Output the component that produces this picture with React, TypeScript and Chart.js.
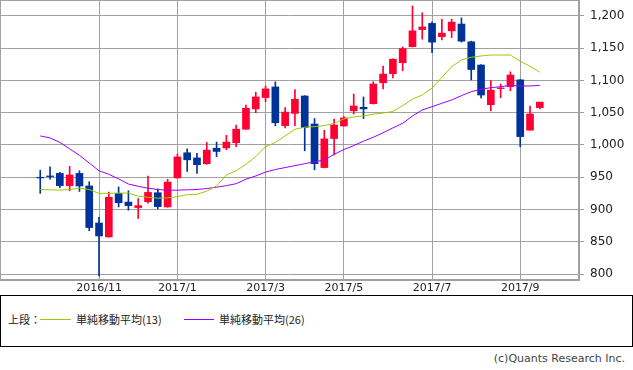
import React, { useEffect, useRef } from 'react';
import { Chart, registerables } from 'chart.js';
Chart.register(...registerables);

// Weekly candles (week start dates)
const weeks = [
  '2016-09-26', '2016-10-03', '2016-10-10', '2016-10-17', '2016-10-24', '2016-10-31',
  '2016-11-07', '2016-11-14', '2016-11-21', '2016-11-28', '2016-12-05', '2016-12-12',
  '2016-12-19', '2016-12-26', '2017-01-02', '2017-01-09', '2017-01-16', '2017-01-23',
  '2017-01-30', '2017-02-06', '2017-02-13', '2017-02-20', '2017-02-27', '2017-03-06',
  '2017-03-13', '2017-03-20', '2017-03-27', '2017-04-03', '2017-04-10', '2017-04-17',
  '2017-04-24', '2017-05-01', '2017-05-08', '2017-05-15', '2017-05-22', '2017-05-29',
  '2017-06-05', '2017-06-12', '2017-06-19', '2017-06-26', '2017-07-03', '2017-07-10',
  '2017-07-17', '2017-07-24', '2017-07-31', '2017-08-07', '2017-08-14', '2017-08-21',
  '2017-08-28', '2017-09-04', '2017-09-11', '2017-09-18',
];

const openP = [
  950, 952, 956, 937, 956, 936.5, 879, 857.5, 925, 911.5, 903, 912, 926, 904,
  949, 988, 980, 971, 995, 995.5, 1003.5, 1024.5, 1056, 1073.5, 1090, 1030, 1049, 1076,
  1032.5, 965, 1010, 1029.5, 1053, 1058.5, 1064, 1096.5, 1110.5, 1127.5, 1152.5, 1179,
  1188.5, 1168, 1177, 1187.5, 1160, 1124, 1062.5, 1087.5, 1090.5, 1101, 1023, 1058,
];
const highP = [
  961, 966, 957.5, 967, 960, 943, 888, 927, 935, 929, 917, 952, 932, 947,
  986, 994, 987, 1004, 1004.5, 1015, 1031, 1062, 1082, 1091.5, 1098, 1058, 1086, 1076.5,
  1041, 1023, 1040, 1044, 1079, 1074.5, 1098, 1122.5, 1133.5, 1152, 1215.5, 1205,
  1191, 1195, 1195, 1197, 1161, 1124.5, 1100, 1094.5, 1113.5, 1101.5, 1060.5, 1066.5,
];
const lowP = [
  925, 947, 934, 929, 928, 867, 797, 857, 904, 899, 886, 910, 901, 903.5,
  948.5, 959, 956, 970, 982, 992.5, 997.5, 1024, 1050, 1067, 1030, 1026.5, 1030, 991,
  961.5, 964.5, 984.5, 1029, 1048, 1041, 1063.5, 1087, 1104, 1115, 1152, 1164,
  1143, 1163, 1166.5, 1159.5, 1101, 1073, 1053, 1073.5, 1084, 997.5, 1023, 1056,
];
const closeP = [
  949, 951, 937, 953.5, 936.5, 872, 859, 919, 910.5, 906, 906, 926.5, 904.5, 942.5,
  981.5, 977, 969.5, 992, 990, 1004.5, 1024.5, 1057, 1074.5, 1087, 1034.5, 1051, 1071, 1027,
  971, 1009.5, 1031, 1042, 1060.5, 1056, 1094.5, 1110, 1133, 1149.5, 1177, 1183,
  1159.5, 1173.5, 1190.5, 1161, 1117, 1077.5, 1085, 1088.5, 1108.5, 1013, 1048, 1066.5,
];

// 単純移動平均(13)
const sma13 = [
  931, 930.5, 930, 931, 933, 931, 925, 925, 925.5, 925.5, 920.5, 919, 917.5, 918,
  920, 923, 923.5, 928.5, 936.5, 953.5, 960, 970, 982, 997.4, 1004, 1014, 1024.5, 1027.5,
  1028.5, 1030, 1033.6, 1040.5, 1043.5, 1045.2, 1047.8, 1049.5, 1052, 1061, 1071, 1077.5,
  1088.4, 1105, 1121.4, 1131.8, 1136, 1138, 1139.5, 1139.5, 1139.5, 1130, 1122, 1113,
];
// 単純移動平均(26)
const sma26 = [
  1014, 1011, 1004, 994, 984, 972, 960, 954.6, 947.5, 939.5, 936, 933, 931, 930,
  930, 930.5, 931, 932.5, 934.5, 937, 940, 947, 952, 958, 962, 965, 968, 971,
  974, 976.7, 985.6, 993, 999, 1006, 1012, 1019, 1026.5, 1033.6, 1045, 1054.3,
  1059.4, 1064.7, 1069.8, 1076.5, 1082.7, 1086.4, 1088.9, 1090.4, 1092.5, 1091.5, 1091.5, 1092.5,
];

const tickWeeks = ['2016-11-07', '2017-01-02', '2017-03-06', '2017-05-01', '2017-07-03', '2017-09-04'];
const tickLabels = ['2016/11', '2017/1', '2017/3', '2017/5', '2017/7', '2017/9'];
const priceTicks = [800, 850, 900, 950, 1000, 1050, 1100, 1150, 1200];

const UP = '#ff0033';
const DOWN = '#003399';
const GREEN = '#99cc00';
const PURPLE = '#9900ff';
const GRID = '#a0a0a0';

export default function App() {
  const ref = useRef<HTMLCanvasElement>(null);

  useEffect(() => {
    document.body.style.margin = '0';
    const colors = closeP.map((c, i) => (c >= openP[i] ? UP : DOWN));
    const frame = {
      id: 'frame',
      beforeDatasetsDraw(chart: any) {
        const { ctx, chartArea: a } = chart;
        ctx.save();
        ctx.strokeStyle = GRID;
        ctx.lineWidth = 1;
        ctx.strokeRect(Math.round(a.left) + 0.5, Math.round(a.top) + 0.5,
          Math.round(a.right - a.left) - 1, Math.round(a.bottom - a.top) - 1);
        ctx.restore();
      },
    };
    const chart = new Chart(ref.current as HTMLCanvasElement, {
      type: 'bar',
      data: {
        datasets: [
          {
            type: 'line',
            data: weeks.map((_, i) => ({ x: i, y: sma13[i] })),
            borderColor: GREEN,
            borderWidth: 1,
            pointRadius: 0,
            tension: 0,
            order: 0,
          } as any,
          {
            type: 'line',
            data: weeks.map((_, i) => ({ x: i, y: sma26[i] })),
            borderColor: PURPLE,
            borderWidth: 1,
            pointRadius: 0,
            tension: 0,
            order: 0,
          } as any,
          {
            type: 'bar',
            data: weeks.map((_, i) => ({ x: i, y: [openP[i], closeP[i]] })),
            backgroundColor: colors,
            barThickness: 7,
            grouped: false,
            order: 1,
          } as any,
          {
            type: 'bar',
            data: weeks.map((_, i) => ({ x: i, y: [lowP[i], highP[i]] })),
            backgroundColor: colors,
            barThickness: 1,
            grouped: false,
            order: 2,
          } as any,
        ],
      },
      options: {
        animation: false,
        responsive: false,
        events: [],
        layout: { padding: 0 },
        plugins: { legend: { display: false }, tooltip: { enabled: false } },
        scales: {
          x: {
            type: 'linear',
            min: -4.11,
            max: 55.0,
            offset: false,
            afterBuildTicks: (s: any) => {
              s.ticks = tickWeeks.map((w) => ({ value: weeks.indexOf(w) }));
            },
            afterFit: (s: any) => {
              s.height = 15;
              s.paddingLeft = 0;
              s.paddingRight = 0;
            },
            grid: { color: GRID, lineWidth: 1, drawTicks: false, offset: false },
            border: { color: GRID },
            ticks: {
              autoSkip: false,
              maxRotation: 0,
              padding: 2,
              color: '#222',
              font: { family: 'DejaVu Sans', size: 11 },
              callback: (_v: any, i: number) => tickLabels[i],
            },
          },
          y: {
            type: 'linear',
            position: 'right',
            min: 790.7,
            max: 1224.8,
            afterBuildTicks: (s: any) => {
              s.ticks = priceTicks.map((v) => ({ value: v }));
            },
            afterFit: (s: any) => {
              s.width = 54;
              s.paddingTop = 0;
              s.paddingBottom = 0;
            },
            grid: { color: GRID, lineWidth: 1, drawTicks: true, tickLength: 5 },
            border: { color: GRID },
            ticks: {
              padding: 6,
              color: '#222',
              font: { family: 'DejaVu Sans', size: 12 },
              callback: (v: any) => Number(v).toLocaleString('en-US'),
            },
          },
        },
      } as any,
      plugins: [frame],
    });
    return () => chart.destroy();
  }, []);

  const textBase: React.CSSProperties = {
    position: 'absolute',
    fontFamily: '"Noto Sans CJK JP", "DejaVu Sans", sans-serif',
    fontSize: 11,
    lineHeight: '14px',
    color: '#222',
    whiteSpace: 'nowrap',
  };

  return (
    <div style={{ position: 'absolute', left: 0, top: 0, width: 633, height: 370, background: '#fff' }}>
      <canvas ref={ref} width={633} height={295} style={{ position: 'absolute', left: 0, top: 0 }} />
      <div
        style={{
          position: 'absolute', left: 0, top: 295, width: 633, height: 52,
          boxSizing: 'border-box', border: '1px solid #000',
        }}
      />
      <div style={{ ...textBase, left: 8, top: 312 }}>上段：</div>
      <div style={{ position: 'absolute', left: 40, top: 319, width: 31, height: 1, background: GREEN }} />
      <div style={{ ...textBase, left: 76, top: 312 }}>単純移動平均(13)</div>
      <div style={{ position: 'absolute', left: 184, top: 319, width: 30, height: 1, background: PURPLE }} />
      <div style={{ ...textBase, left: 219, top: 312 }}>単純移動平均(26)</div>
      <div
        style={{
          ...textBase, right: 8, top: 352, fontFamily: '"DejaVu Sans", sans-serif',
          fontSize: 11, color: '#444',
        }}
      >
        (c)Quants Research Inc.
      </div>
    </div>
  );
}
